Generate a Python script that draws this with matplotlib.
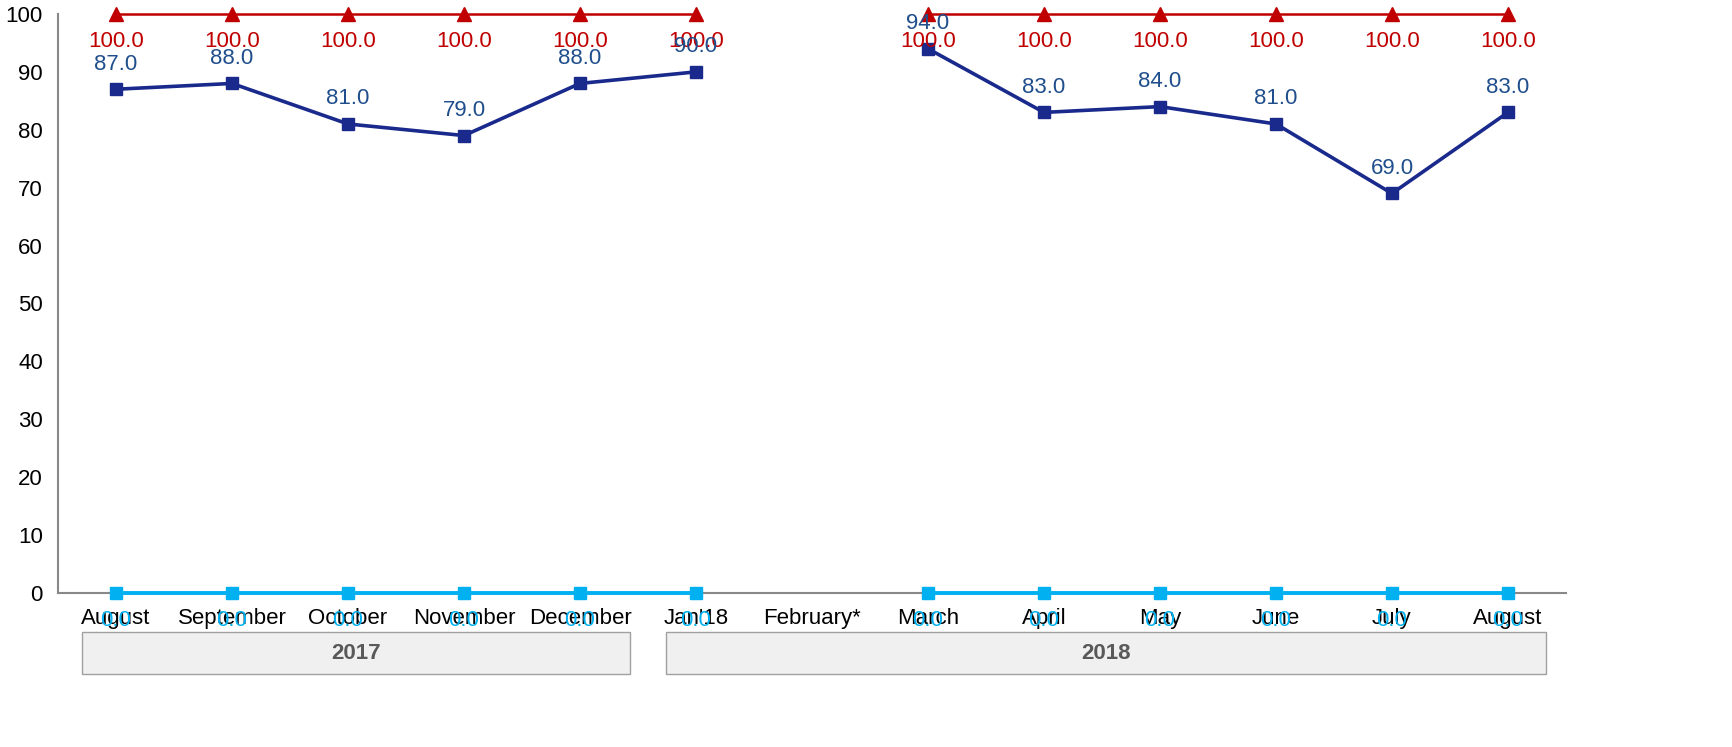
import numpy as np
import matplotlib
matplotlib.use("Agg")
import matplotlib.pyplot as plt
from matplotlib.patches import Rectangle

plt.rcParams['font.family'] = ['Liberation Sans', 'DejaVu Sans']

categories = ["August", "September", "October", "November", "December", "Jan'18",
              "February*", "March", "April", "May", "June", "July", "August"]
target = [100, 100, 100, 100, 100, 100, np.nan, 100, 100, 100, 100, 100, 100]
actual = [87, 88, 81, 79, 88, 90, np.nan, 94, 83, 84, 81, 69, 83]
zero_series = [0, 0, 0, 0, 0, 0, np.nan, 0, 0, 0, 0, 0, 0]
groups = ["2017", "2018"]

FS = 16
fig = plt.figure(figsize=(17.33, 7.47), dpi=100)
ax = fig.add_axes([0.0335, 0.2062, 0.8701, 0.7751])
x = np.arange(len(categories))

ax.plot(x, target, color="#c00000", lw=1.8, marker="^", ms=10, zorder=3, clip_on=False)
ax.plot(x, actual, color="#1a2a8c", lw=2.6, marker="s", ms=8, zorder=4)
ax.plot(x, zero_series, color="#00b0f0", lw=2.8, marker="s", ms=8, zorder=4,
        clip_on=False)

for xi, v in zip(x, target):
    if not np.isnan(v):
        ax.annotate(f"{v:.1f}", (xi, v), xytext=(0, -19.5), textcoords="offset points",
                    ha="center", va="center", color="#c00000", fontsize=FS, zorder=5,
                    annotation_clip=False)
for xi, v in zip(x, actual):
    if not np.isnan(v):
        ax.annotate(f"{v:.1f}", (xi, v), xytext=(0, 18), textcoords="offset points",
                    ha="center", va="center", color="#1f4e8c", fontsize=FS, zorder=5,
                    annotation_clip=False)
for xi, v in zip(x, zero_series):
    if not np.isnan(v):
        ax.annotate(f"{v:.1f}", (xi, v), xytext=(0, -19.5), textcoords="offset points",
                    ha="center", va="center", color="#00b0f0", fontsize=FS, zorder=5,
                    annotation_clip=False)

ax.set_xlim(-0.5, len(categories) - 0.5)
ax.set_ylim(0, 100)
ax.set_yticks(np.arange(0, 101, 10))
ax.set_xticks(x)
ax.set_xticklabels(categories, fontsize=FS)
ax.tick_params(axis="both", length=0, labelsize=FS, colors="black")
ax.tick_params(axis="x", pad=11)
ax.tick_params(axis="y", pad=11)
for s in ["top", "right"]:
    ax.spines[s].set_visible(False)
for s in ["left", "bottom"]:
    ax.spines[s].set_color("#888888")
    ax.spines[s].set_linewidth(1.5)

box_spans = [(-0.29, 4.43), (4.74, 12.33)]
trans = ax.get_xaxis_transform()
for (x0, x1), g in zip(box_spans, groups):
    r = Rectangle((x0, -0.14), x1 - x0, 0.0725, transform=trans, clip_on=False,
                  facecolor="#f0f0f0", edgecolor="#a0a0a0", lw=1)
    ax.add_patch(r)
    ax.text((x0 + x1) / 2, -0.1037, g, transform=trans, ha="center", va="center",
            fontsize=FS, fontweight="bold", color="#595959")

fig.savefig("out.png", dpi=100)
